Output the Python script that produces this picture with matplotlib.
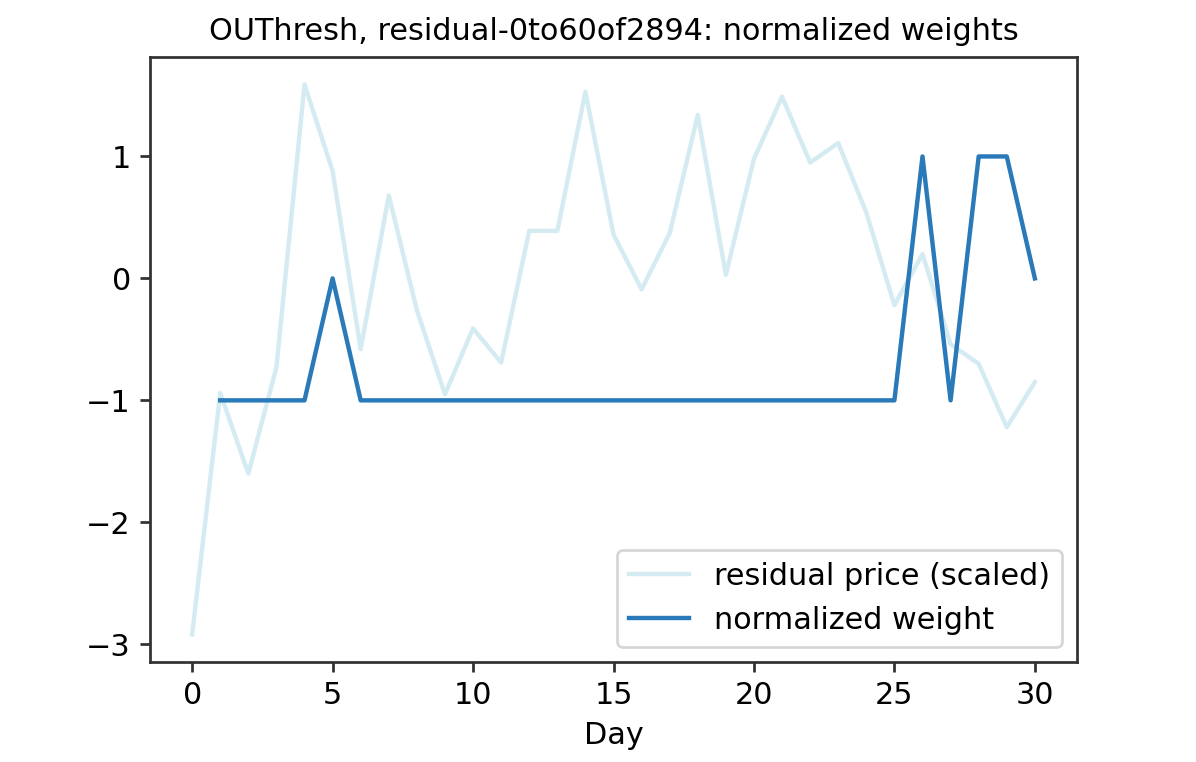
import matplotlib
matplotlib.use('Agg')
import matplotlib.pyplot as plt

days = list(range(0, 31))
residual = [-2.92, -0.94, -1.60, -0.73, 1.59, 0.88, -0.58, 0.68, -0.26, -0.95,
            -0.41, -0.69, 0.39, 0.39, 1.53, 0.36, -0.09, 0.37, 1.34, 0.03,
            0.98, 1.49, 0.95, 1.11, 0.54, -0.22, 0.20, -0.54, -0.70, -1.22,
            -0.85]

weight_days = list(range(1, 31))
weights = [-1, -1, -1, -1, 0, -1, -1, -1, -1, -1,
           -1, -1, -1, -1, -1, -1, -1, -1, -1, -1,
           -1, -1, -1, -1, -1, 1, -1, 1, 1, 0]

plt.rcParams['font.size'] = 11
plt.rcParams['axes.linewidth'] = 1.0
plt.rcParams['axes.edgecolor'] = '#333333'
plt.rcParams['xtick.major.width'] = 1.0
plt.rcParams['ytick.major.width'] = 1.0
plt.rcParams['xtick.color'] = '#333333'
plt.rcParams['ytick.color'] = '#333333'
plt.rcParams['xtick.labelcolor'] = 'black'
plt.rcParams['ytick.labelcolor'] = 'black'

dpi = 198
fig = plt.figure(figsize=(1196 / dpi, 762 / dpi), dpi=dpi)
ax = fig.add_axes([150 / 1196, 1 - 662 / 762, 927 / 1196, 605 / 762])

ax.plot(days, residual, color='lightblue', alpha=0.5, lw=1.6,
        label='residual price (scaled)')
ax.plot(weight_days, weights, color='#2a7ab9', lw=1.6,
        label='normalized weight')

ax.set_xticks([0, 5, 10, 15, 20, 25, 30])
ax.set_yticks([-3, -2, -1, 0, 1])
ax.set_yticklabels(['\u22123', '\u22122', '\u22121', '0', '1'])
ax.set_xlabel('Day')
ax.set_title('OUThresh, residual-0to60of2894: normalized weights', fontsize=11)
ax.legend(loc='lower right')

fig.savefig('out.png', dpi=dpi)
